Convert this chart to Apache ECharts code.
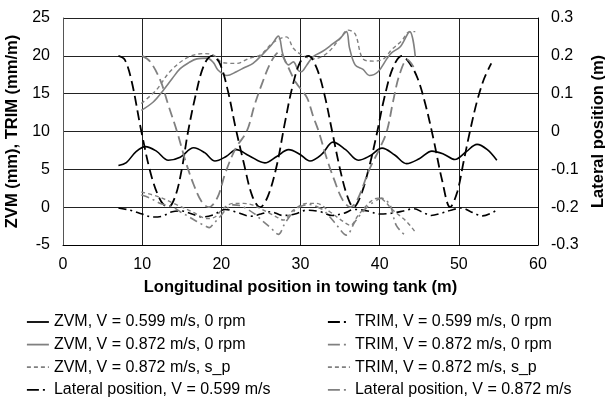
<!DOCTYPE html>
<html><head><meta charset="utf-8">
<script src="https://cdn.jsdelivr.net/npm/echarts@6/dist/echarts.min.js"></script>
<style>html,body{margin:0;padding:0;background:#fff}#c{width:605px;height:399px}</style>
</head><body><div id="c"></div>
<script>
// Tick settings
const xTicks = {min: 0, max: 60, interval: 10};
const leftTicks = {min: -5, max: 25, interval: 5};
const rightTicks = {min: -0.3, max: 0.3, interval: 0.1};

const seriesNames = [
  'ZVM, V = 0.599 m/s, 0 rpm',
  'ZVM, V = 0.872 m/s, 0 rpm',
  'ZVM, V = 0.872 m/s, s_p',
  'Lateral position, V = 0.599 m/s',
  'TRIM, V = 0.599 m/s, 0 rpm',
  'TRIM, V = 0.872 m/s, 0 rpm',
  'TRIM, V = 0.872 m/s, s_p',
  'Lateral position, V = 0.872 m/s'
];

// [longitudinal position (m), value]
const zvm0599 = [[7.0,5.5],[8.0,5.9],[9.2,7.3],[10.4,8.0],[11.8,7.4],[13.3,6.2],[14.8,6.6],[16.5,7.85],[17.9,7.2],[19.2,6.1],[20.6,6.7],[21.9,7.6],[23.5,6.8],[25.5,5.85],[27.0,6.7],[28.5,7.6],[29.9,7.0],[31.2,6.1],[32.7,7.0],[34.1,8.6],[35.7,7.6],[37.3,6.2],[38.8,6.8],[40.3,7.8],[41.9,6.9],[43.4,5.75],[45.0,6.4],[46.6,7.4],[48.1,7.0],[49.5,6.3],[50.9,7.3],[52.3,8.3],[53.6,7.6],[54.8,6.2]];
const zvm0872 = [[9.9,12.8],[11.4,13.9],[12.7,15.5],[13.8,17.0],[14.8,18.3],[15.9,19.1],[16.9,19.6],[18.2,19.7],[19.0,19.1],[19.6,18.1],[20.7,17.4],[21.9,17.9],[23.0,18.5],[24.0,19.0],[25.3,20.3],[26.3,21.4],[27.2,22.6],[27.8,20.1],[28.5,18.8],[29.1,19.2],[29.7,18.1],[30.1,17.9],[30.8,18.8],[31.6,19.9],[32.8,20.6],[34.1,21.6],[35.0,22.3],[35.8,23.2],[36.2,21.0],[36.9,18.8],[37.9,18.2],[38.7,17.4],[39.8,17.9],[40.9,19.6],[41.5,20.4],[42.6,21.2],[43.8,23.2],[44.5,19.9]];
const zvmSp = [[9.9,13.7],[11.8,15.5],[13.5,17.9],[15.6,19.7],[17.7,20.3],[19.0,20.1],[20.2,19.1],[21.9,19.0],[23.6,19.7],[24.9,20.1],[26.6,21.8],[28.2,22.5],[29.1,21.0],[29.9,20.3],[31.6,19.6],[33.3,20.3],[35.0,22.3],[36.0,23.4],[36.9,22.9],[37.9,19.6],[39.2,19.3],[40.5,19.6],[41.5,20.8],[42.8,22.0],[43.8,23.2],[44.5,23.2]];
const trim0599 = [[7.0,-0.1],[8.5,-0.4],[10.0,-0.9],[11.3,-1.3],[12.5,-1.2],[13.8,-0.6],[15.0,-0.5],[16.3,-0.9],[17.6,-1.3],[19.0,-1.0],[20.5,-0.3],[22.0,-0.7],[23.7,-1.2],[25.0,-0.9],[26.2,-0.6],[27.8,-1.1],[29.3,-0.9],[30.8,-0.4],[32.5,-0.6],[34.0,-1.1],[35.5,-0.8],[36.8,-0.3],[38.5,-0.5],[40.0,-0.9],[41.5,-0.8],[43.0,-0.5],[44.3,-0.2],[45.5,-0.7],[46.5,-1.1],[47.8,-0.8],[49.0,-0.4],[50.4,-0.1],[51.5,-0.6],[53.0,-1.15],[54.6,-0.5]];
const trim0872 = [[9.9,1.6],[11.0,1.2],[12.3,0.5],[13.9,0.0],[14.8,-0.6],[15.8,-1.2],[16.9,-1.9],[18.0,-2.5],[18.5,-2.7],[19.0,-2.2],[19.8,-1.3],[20.7,-0.2],[21.5,0.3],[22.4,0.2],[23.2,-0.2],[24.2,-0.9],[25.3,-1.9],[26.3,-2.8],[27.2,-3.6],[28.0,-2.2],[29.1,-0.6],[30.0,0.1],[31.2,0.35],[32.2,0.0],[32.9,-0.4],[33.8,-1.4],[34.6,-2.4],[35.8,-3.7],[36.9,-1.9],[38.4,0.0],[39.6,0.9],[40.2,1.2],[41.3,0.3],[42.1,-2.4],[43.4,-3.9]];
const trimSp = [[9.9,2.0],[12.0,1.4],[14.4,0.3],[16.3,-0.6],[18.2,-1.5],[19.2,-1.3],[20.2,-0.2],[21.5,0.5],[22.8,0.5],[24.0,0.26],[25.7,-0.6],[27.0,-1.3],[27.8,-1.7],[29.1,-0.4],[30.8,0.5],[32.0,0.5],[33.7,-0.6],[35.4,-1.9],[36.3,-2.4],[37.3,-1.06],[38.8,0.7],[39.8,1.2],[40.4,1.0],[41.7,-0.4],[43.4,-1.9],[44.5,-3.3]];
const lat0599 = [[7.0,0.2],[7.8,0.19],[8.7,0.13],[9.9,0.0],[11.2,-0.12],[12.4,-0.185],[13.3,-0.2],[14.2,-0.17],[15.0,-0.1],[15.8,0.0],[16.8,0.1],[17.8,0.175],[18.8,0.2],[19.8,0.18],[20.8,0.11],[21.8,0.01],[22.8,-0.08],[23.9,-0.17],[24.9,-0.2],[25.9,-0.17],[27.0,-0.09],[28.0,0.02],[29.0,0.12],[30.0,0.185],[31.0,0.2],[32.0,0.17],[33.0,0.1],[34.0,0.0],[35.0,-0.1],[35.9,-0.17],[36.7,-0.2],[37.6,-0.17],[38.6,-0.1],[39.6,-0.01],[40.6,0.09],[41.7,0.17],[42.8,0.2],[43.8,0.18],[44.8,0.14],[45.8,0.07],[46.8,-0.02],[47.9,-0.13],[48.9,-0.2],[49.8,-0.16],[50.6,-0.08],[51.4,0.0],[52.3,0.08],[53.2,0.14],[54.1,0.18]];
const lat0872 = [[10.0,0.2],[11.0,0.185],[12.3,0.135],[13.3,0.07],[14.4,0.0],[15.5,-0.08],[16.5,-0.14],[17.5,-0.185],[18.4,-0.2],[19.5,-0.175],[20.5,-0.11],[21.8,-0.045],[23.2,0.0],[24.2,0.07],[25.2,0.13],[26.3,0.185],[27.3,0.21],[28.2,0.18],[29.4,0.13],[30.8,0.09],[31.6,0.04],[32.3,0.0],[33.3,-0.07],[34.3,-0.13],[35.3,-0.18],[36.3,-0.2],[37.2,-0.18],[38.7,-0.1],[40.0,-0.045],[40.9,0.0],[41.7,0.08],[42.5,0.15],[43.5,0.19],[44.3,0.17]];

const FONT = '"Liberation Sans", Arial, sans-serif';
const FS = 16;
const BLACK = '#000000', GRAY = '#808080';
const LONG_DASH = [10, 5], SHORT_DASH = [4, 3], DASH_DOT = [8, 4, 2, 4];

function mk(name, data, color, type, width, yIdx) {
  return {
    name: name, type: 'line', data: data, yAxisIndex: yIdx || 0,
    symbol: 'none', smooth: 0.35, animation: false,
    lineStyle: {color: color, width: width, type: type},
    itemStyle: {color: color}
  };
}

const series = [
  mk(seriesNames[0], zvm0599, BLACK, 'solid', 1.6),
  mk(seriesNames[1], zvm0872, GRAY, 'solid', 1.6),
  mk(seriesNames[2], zvmSp, GRAY, SHORT_DASH, 1.4),
  mk(seriesNames[3], lat0599, BLACK, LONG_DASH, 1.8, 1),
  mk(seriesNames[4], trim0599, BLACK, DASH_DOT, 1.6),
  mk(seriesNames[5], trim0872, GRAY, DASH_DOT, 1.6),
  mk(seriesNames[6], trimSp, GRAY, SHORT_DASH, 1.4),
  mk(seriesNames[7], lat0872, GRAY, LONG_DASH, 1.8, 1)
];

function legendItem(name, color, type) {
  return {name: name, lineStyle: {color: color, type: type, width: 1.8}, itemStyle: {opacity: 0}};
}
const LEG_DASHDOT = [12, 4, 2, 30];
const legendCommon = {
  orient: 'vertical', top: 314, height: 90, itemGap: 6.6, itemWidth: 22, itemHeight: 16,
  textStyle: {fontFamily: FONT, fontSize: FS, color: '#000'},
  itemStyle: {opacity: 0}, selectedMode: false, padding: 0
};

const chart = echarts.init(document.getElementById('c'), null, {renderer: 'canvas'});
chart.setOption({
  animation: false,
  backgroundColor: '#fff',
  textStyle: {fontFamily: FONT},
  grid: {left: 63, right: 67, top: 18, bottom: 154, containLabel: false, outerBoundsMode: 'none'},
  legend: [
    Object.assign({}, legendCommon, {left: 26, data: [
      legendItem(seriesNames[0], BLACK, 'solid'),
      legendItem(seriesNames[1], GRAY, 'solid'),
      legendItem(seriesNames[2], GRAY, SHORT_DASH),
      legendItem(seriesNames[3], BLACK, LEG_DASHDOT)
    ]}),
    Object.assign({}, legendCommon, {left: 327, data: [
      legendItem(seriesNames[4], BLACK, LEG_DASHDOT),
      legendItem(seriesNames[5], GRAY, LEG_DASHDOT),
      legendItem(seriesNames[6], GRAY, SHORT_DASH),
      legendItem(seriesNames[7], GRAY, LEG_DASHDOT)
    ]})
  ],
  xAxis: {
    type: 'value', min: xTicks.min, max: xTicks.max, interval: xTicks.interval,
    name: 'Longitudinal position in towing tank (m)', nameLocation: 'middle', nameGap: 34,
    nameTextStyle: {fontFamily: FONT, fontSize: 16.5, fontWeight: 'bold', color: '#000'},
    axisLine: {show: true, onZero: false, lineStyle: {color: '#000', width: 1}},
    axisTick: {show: false},
    axisLabel: {fontFamily: FONT, fontSize: FS, color: '#000', margin: 12},
    splitLine: {show: true, lineStyle: {color: '#222', width: 1}}
  },
  yAxis: [
    {
      type: 'value', position: 'left', min: leftTicks.min, max: leftTicks.max, interval: leftTicks.interval,
      name: 'ZVM (mm), TRIM (mm/m)', nameLocation: 'middle', nameGap: 37, nameRotate: 90,
      nameTextStyle: {fontFamily: FONT, fontSize: 16.5, fontWeight: 'bold', color: '#000'},
      axisLine: {show: true, onZero: false, lineStyle: {color: '#555', width: 1}},
      axisTick: {show: false},
      axisLabel: {fontFamily: FONT, fontSize: FS, color: '#000', margin: 13},
      splitLine: {show: true, lineStyle: {color: '#222', width: 1}}
    },
    {
      type: 'value', position: 'right', min: rightTicks.min, max: rightTicks.max, interval: rightTicks.interval,
      name: 'Lateral position (m)', nameLocation: 'middle', nameGap: 49, nameRotate: 90,
      nameTextStyle: {fontFamily: FONT, fontSize: 16.5, fontWeight: 'bold', color: '#000'},
      axisLine: {show: true, onZero: false, lineStyle: {color: '#000', width: 1}},
      axisTick: {show: false},
      axisLabel: {fontFamily: FONT, fontSize: FS, color: '#000', margin: 13,
        formatter: function (v) { return String(Math.round(v * 10) / 10); }},
      splitLine: {show: false}
    }
  ],
  series: series
});
</script></body></html>
